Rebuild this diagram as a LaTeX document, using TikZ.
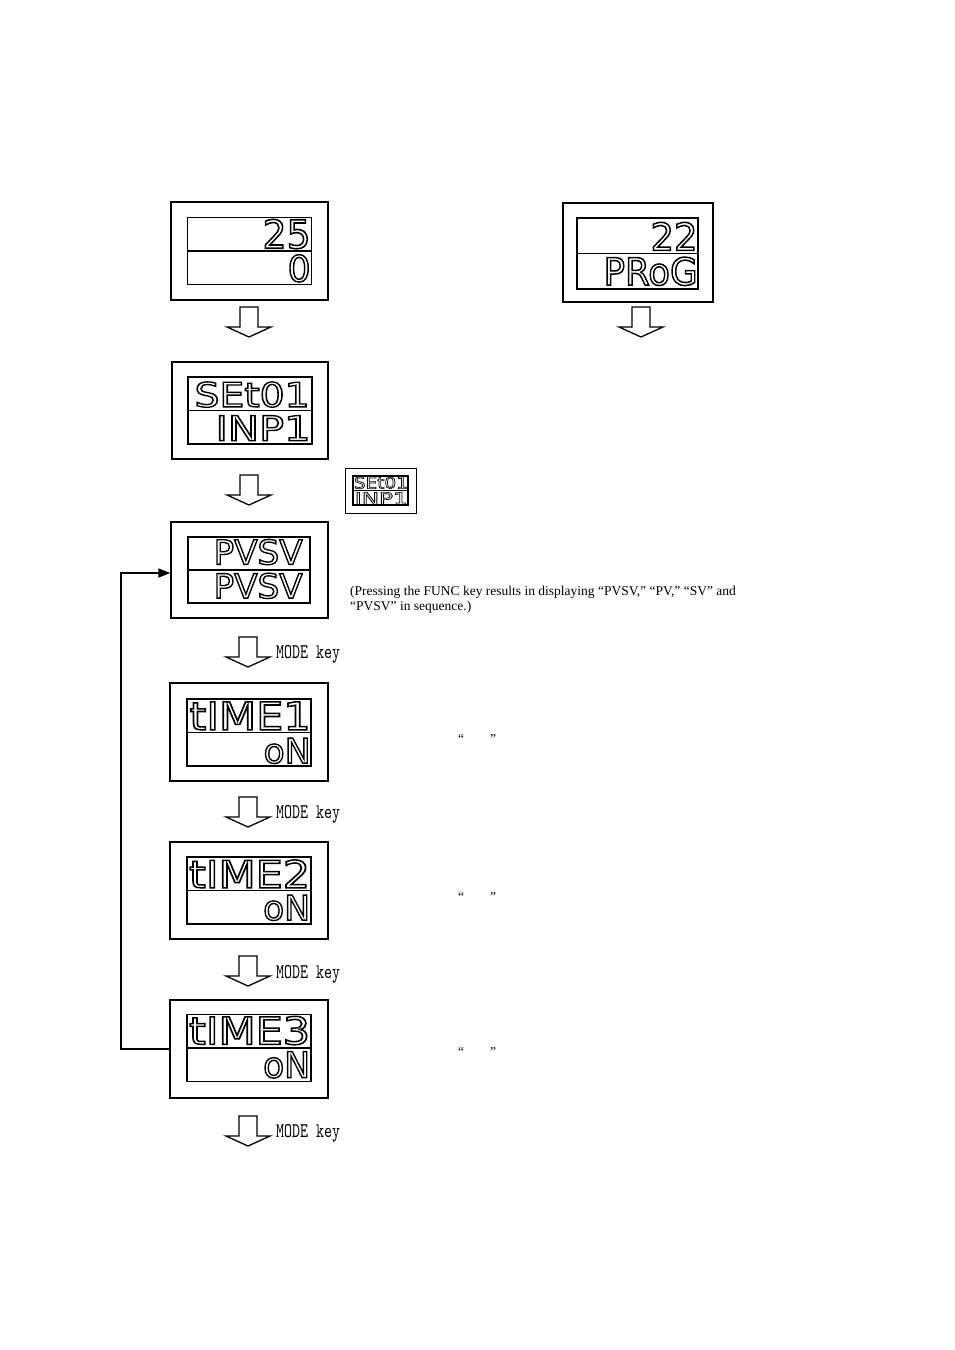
\documentclass[tikz,border=0pt]{standalone}
\usepackage{fontspec}
\usepackage{graphicx}
\setmainfont{Liberation Serif}
\newfontfamily\lcdfont{DejaVu Sans}
\usetikzlibrary{positioning,arrows.meta}

% one digit string stretched to the size it has on the panel, drawn hollow
\newcommand{\seg}[3]{\resizebox{#1pt}{#2pt}{%
  \special{pdf:literal direct 1 Tr 0.4 w}\lcdfont #3\special{pdf:literal direct 0 Tr}}}
\newcommand{\modekey}{\resizebox{64pt}{13pt}{\ttfamily MODE key}}

\tikzset{
  lcdframe/.style={draw, line width=1.4pt, inner sep=0pt,
    minimum width=157pt, minimum height=98pt},
  lcdglass/.style={draw, line width=1.6pt, inner sep=0pt,
    minimum width=124pt, minimum height=67pt},
  lcdrow/.style={line width=1.4pt},
  lcdtext/.style={inner sep=0pt, anchor=south east},
  keylabel/.style={inner sep=0pt, anchor=base west},
  note/.style={inner sep=0pt, align=left, font=\fontsize{13.5}{15}\selectfont},
  loopline/.style={line width=1.8pt, -{Triangle[length=12pt,width=9pt]}},
  downarrow/.pic={
    \draw[line width=1.3pt, fill=white]
      (-9,0) -- (-9,20) -- (-22,20) -- (0,30) -- (22,20) -- (9,20) -- (9,0) -- cycle;
  }
}

\begin{document}
\begin{tikzpicture}[x=1pt, y=-1pt]
  \path[fill=white, use as bounding box] (0,0) rectangle (954,1350);

  % standby display
  \node[lcdframe] (d1) at (249.5,251) {};
  \node[lcdglass] (d1g) at (d1.center) {};
  \draw[lcdrow] (d1g.west) -- (d1g.east);
  \node[lcdtext] (d1t) at ([xshift=-1.5pt,yshift=2pt]d1g.east) {\seg{48}{29}{25}};
  \node[lcdtext] (d1b) at ([xshift=-1.5pt,yshift=3pt]d1g.south east) {\seg{23}{27}{0}};
  \pic at (249,307) {downarrow};

  % program display
  \node[lcdframe, minimum width=150pt, minimum height=99pt] (d2) at (638,252.5) {};
  \node[lcdglass, minimum width=121pt, minimum height=71pt] (d2g) at (637.5,253.5) {};
  \draw[lcdrow] (d2g.west) -- (d2g.east);
  \node[lcdtext] (d2t) at ([xshift=-1pt,yshift=3pt]d2g.east) {\seg{47}{28}{22}};
  \node[lcdtext] (d2b) at ([xshift=-1pt,yshift=4pt]d2g.south east) {\seg{94}{28}{PRoG}};
  \pic at (641,307) {downarrow};

  % input setting
  \node[lcdframe, minimum width=156pt, minimum height=97pt] (d3) at (250,410.5) {};
  \node[lcdglass] (d3g) at (d3.center) {};
  \draw[lcdrow] (d3g.west) -- (d3g.east);
  \node[lcdtext] (d3t) at ([xshift=-3pt,yshift=3pt]d3g.east) {\seg{115}{25}{SEt01}};
  \node[lcdtext] (d3b) at ([xshift=-2pt,yshift=4pt]d3g.south east) {\seg{95}{25}{INP1}};
  \pic at (249,475) {downarrow};

  % small panel beside it
  \node[lcdframe, line width=1pt, minimum width=71pt, minimum height=45pt] (s3) at (380.5,490.5) {};
  \node[lcdglass, line width=1.2pt, minimum width=55pt, minimum height=29pt] (s3g) at (s3.center) {};
  \draw[line width=1pt] (s3g.west) -- (s3g.east);
  \node[lcdtext] (s3t) at ([xshift=-0.5pt,yshift=1.5pt]s3g.east) {\seg{54}{12}{SEt01}};
  \node[lcdtext] (s3b) at ([xshift=-0.5pt,yshift=1pt]s3g.south east) {\seg{53}{12}{INP1}};

  % PV/SV display
  \node[lcdframe, minimum height=96pt] (d4) at (249.5,570) {};
  \node[lcdglass, minimum width=122pt, minimum height=66pt] (d4g) at (249,570) {};
  \draw[lcdrow] (d4g.west) -- (d4g.east);
  \node[lcdtext] (d4t) at ([xshift=-8pt,yshift=5pt]d4g.east) {\seg{89}{25}{PVSV}};
  \node[lcdtext] (d4b) at ([xshift=-8pt,yshift=5pt]d4g.south east) {\seg{89}{25}{PVSV}};
  \node[note, anchor=north west] (n4) at (350,586)
    {(Pressing the FUNC key results in displaying “PVSV,” “PV,” “SV” and\\
     “PVSV” in sequence.)};
  \pic at (248,637) {downarrow};
  \node[keylabel] (k4) at (276,658.5) {\modekey};

  % timer 1
  \node[lcdframe, minimum width=158pt] (d5) at (249,732) {};
  \node[lcdglass] (d5g) at (249,732.5) {};
  \draw[lcdrow] (d5g.west) -- (d5g.east);
  \node[lcdtext] (d5t) at ([xshift=-1pt,yshift=2.5pt]d5g.east) {\seg{121}{28}{tIME1}};
  \node[lcdtext] (d5b) at ([xshift=-1pt,yshift=3pt]d5g.south east) {\seg{47}{25}{oN}};
  \node[note, anchor=base west] (q5) at (458,743.5) {“\hspace{26pt}”};
  \pic at (248,797) {downarrow};
  \node[keylabel] (k5) at (276,818.5) {\modekey};

  % timer 2
  \node[lcdframe, minimum width=158pt, minimum height=97pt] (d6) at (249,890.5) {};
  \node[lcdglass] (d6g) at (d6.center) {};
  \draw[lcdrow] (d6g.west) -- (d6g.east);
  \node[lcdtext] (d6t) at ([xshift=-1.5pt,yshift=2.5pt]d6g.east) {\seg{121}{28}{tIME2}};
  \node[lcdtext] (d6b) at ([xshift=-1.5pt,yshift=4pt]d6g.south east) {\seg{47}{25}{oN}};
  \node[note, anchor=base west] (q6) at (458,901.5) {“\hspace{26pt}”};
  \pic at (248,956) {downarrow};
  \node[keylabel] (k6) at (276,978) {\modekey};

  % timer 3
  \node[lcdframe, minimum width=158pt] (d7) at (249,1049) {};
  \node[lcdglass] (d7g) at (249,1048) {};
  \draw[lcdrow] (d7g.west) -- (d7g.east);
  \node[lcdtext] (d7t) at ([xshift=-1.5pt,yshift=3pt]d7g.east) {\seg{121}{28}{tIME3}};
  \node[lcdtext] (d7b) at ([xshift=-1.5pt,yshift=4pt]d7g.south east) {\seg{47}{26}{oN}};
  \node[note, anchor=base west] (q7) at (458,1056.5) {“\hspace{26pt}”};
  \pic at (248,1116) {downarrow};
  \node[keylabel] (k7) at (276,1137.5) {\modekey};

  % back to PV/SV
  \draw[loopline] (d7.west) -- ++(-48,0) |- ([yshift=-3pt]d4.west);
\end{tikzpicture}
\end{document}
